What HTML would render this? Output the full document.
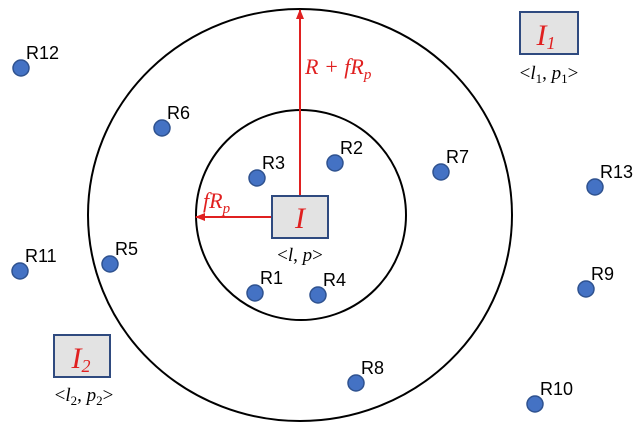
<!DOCTYPE html>
<html><head><meta charset="utf-8"><style>
body{margin:0;background:#fff}
svg{display:block}
.lbl{font-family:"Liberation Sans",sans-serif;font-size:18px;fill:#000}
.m{font-family:"Liberation Serif",serif;font-style:italic;fill:#e02020}
.mb{font-family:"Liberation Serif",serif;font-size:19px;fill:#000}
.it{font-style:italic}
</style></head><body>
<svg width="642" height="436" viewBox="0 0 642 436">
<defs><marker id="ah" markerUnits="userSpaceOnUse" markerWidth="10" markerHeight="10" refX="9" refY="5" orient="auto"><path d="M0,1 L10,5 L0,9 z" fill="#e02020"/></marker></defs>
<ellipse cx="300" cy="215" rx="212" ry="206" fill="none" stroke="#000" stroke-width="2"/>
<circle cx="301" cy="215" r="105" fill="none" stroke="#000" stroke-width="2"/>
<line x1="300" y1="196" x2="300" y2="10" stroke="#e02020" stroke-width="2" marker-end="url(#ah)"/>
<line x1="272" y1="217" x2="196" y2="217" stroke="#e02020" stroke-width="2" marker-end="url(#ah)"/>
<text x="305" y="74" class="m" font-size="22">R + fR<tspan font-size="15" dy="5">p</tspan></text>
<text x="203" y="208" class="m" font-size="22">fR<tspan font-size="15" dy="5">p</tspan></text>
<g>
<rect x="272" y="196" width="56" height="42" fill="#e3e3e3" stroke="#2f4a7f" stroke-width="2"/>
<text x="300" y="228" class="m" font-size="30" text-anchor="middle">I</text>
<text x="300" y="261" class="mb" text-anchor="middle">&lt;<tspan class="it">l</tspan>, <tspan class="it">p</tspan>&gt;</text>
</g>
<g>
<rect x="520" y="12" width="58" height="42" fill="#e3e3e3" stroke="#2f4a7f" stroke-width="2"/>
<text x="546" y="45" class="m" font-size="30" text-anchor="middle">I<tspan font-size="18" dy="4">1</tspan></text>
<text x="549" y="79" class="mb" text-anchor="middle">&lt;<tspan class="it">l</tspan><tspan font-size="13" dy="4">1</tspan><tspan dy="-4">, </tspan><tspan class="it">p</tspan><tspan font-size="13" dy="4">1</tspan><tspan dy="-4">&gt;</tspan></text>
</g>
<g>
<rect x="54" y="335" width="56" height="42" fill="#e3e3e3" stroke="#2f4a7f" stroke-width="2"/>
<text x="81" y="368" class="m" font-size="30" text-anchor="middle">I<tspan font-size="18" dy="4">2</tspan></text>
<text x="84" y="401" class="mb" text-anchor="middle">&lt;<tspan class="it">l</tspan><tspan font-size="13" dy="4">2</tspan><tspan dy="-4">, </tspan><tspan class="it">p</tspan><tspan font-size="13" dy="4">2</tspan><tspan dy="-4">&gt;</tspan></text>
</g>
<g id="dots"></g>
</svg>
<script>
const names=["R1","R2","R3","R4","R5","R6","R7","R8","R9","R10","R11","R12","R13"];
const xs=[255,335,257,318,110,162,441,356,586,535,20,21,595];
const ys=[293,163,178,295,264,128,172,383,289,404,271,68,187];
const g=document.getElementById('dots');
const NS="http://www.w3.org/2000/svg";
names.forEach((n,i)=>{
 const c=document.createElementNS(NS,'circle');
 c.setAttribute('cx',xs[i]);c.setAttribute('cy',ys[i]);c.setAttribute('r',8);
 c.setAttribute('fill','#4472c4');c.setAttribute('stroke','#2f528f');c.setAttribute('stroke-width','1.5');
 
 
 g.appendChild(c);
 const t=document.createElementNS(NS,'text');
 t.setAttribute('x',xs[i]+5);t.setAttribute('y',ys[i]-9);t.setAttribute('class','lbl');
 t.textContent=n;
 
 
 g.appendChild(t);
});
</script>
</body></html>
